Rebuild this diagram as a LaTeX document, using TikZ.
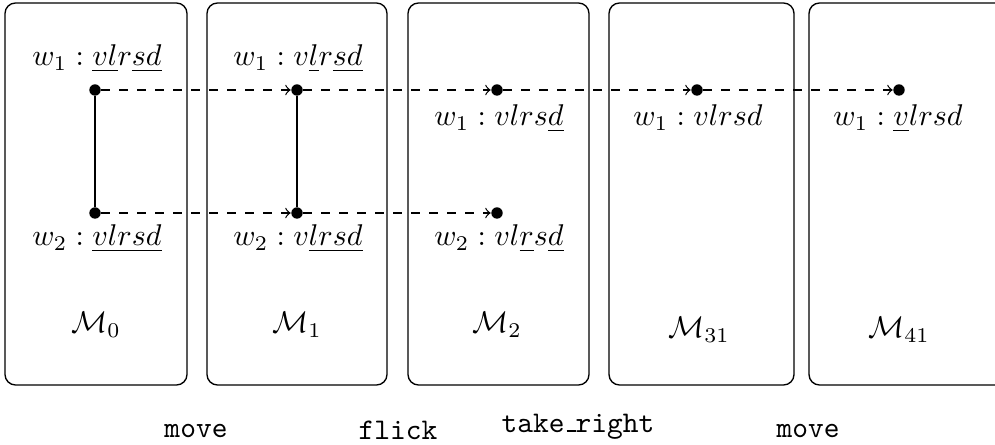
\documentclass[tikz,border=0pt]{standalone}
\newcommand{\lowbar}{\leavevmode\kern.06em\vbox{\hrule width.3em height 0.6pt}}
\begin{document}
\begin{tikzpicture}[x=0.3333pt,y=-0.3333pt,
  panel/.style={draw, rounded corners=3.5pt, line width=0.45pt},
  dot/.style={circle, fill, inner sep=0pt, minimum size=3.8pt},
  flow/.style={dashed, ->, line width=0.4pt},
  link/.style={line width=0.4pt},
  lbl/.style={anchor=base, inner sep=0pt},
  mlbl/.style={inner sep=0pt},
  act/.style={anchor=base, inner sep=0pt, font=\ttfamily}]
\useasboundingbox (0,0) rectangle (995,445);
% panels
\draw[panel] (5,3) rectangle (187,385);
\draw[panel] (207,3) rectangle (387,385);
\draw[panel] (408,3) rectangle (589,385);
\draw[panel] (609,3) rectangle (794,385);
\draw[panel] (809,3) rectangle (1020,385);
% labels w1
\node[lbl] (l10) at (97,66) {$w_1 : \underline{vl}r\underline{sd}$};
\node[lbl] (l11) at (298,66) {$w_1 : v\underline{l}r\underline{sd}$};
\node[lbl] (l12) at (499,126) {$w_1 : vlrs\underline{d}$};
\node[lbl] (l13) at (698,126) {$w_1 : vlrsd$};
\node[lbl] (l14) at (898,126) {$w_1 : \underline{v}lrsd$};
% labels w2
\node[lbl] (l20) at (97,246) {$w_2 : \underline{vlrsd}$};
\node[lbl] (l21) at (298,246) {$w_2 : v\underline{lrsd}$};
\node[lbl] (l22) at (499,246) {$w_2 : vl\underline{r}s\underline{d}$};
% model labels
\node[mlbl] (m0) at (96,325) {$\mathcal{M}_0$};
\node[mlbl] (m1) at (297,325) {$\mathcal{M}_1$};
\node[mlbl] (m2) at (497,325) {$\mathcal{M}_2$};
\node[mlbl] (m3) at (699,330) {$\mathcal{M}_{31}$};
\node[mlbl] (m4) at (899,330) {$\mathcal{M}_{41}$};
% actions
\node[act] (t1) at (196,437) {move};
\node[act] (t2) at (398,440) {flick};
\node[act] (t3) at (578,432) {take\lowbar right};
\node[act] (t4) at (808,437) {move};
% dots
\node[dot] (a0) at (95,90) {};
\node[dot] (a1) at (297,90) {};
\node[dot] (a2) at (497,90) {};
\node[dot] (a3) at (697,90) {};
\node[dot] (a4) at (899,90) {};
\node[dot] (b0) at (95,213) {};
\node[dot] (b1) at (297,213) {};
\node[dot] (b2) at (497,213) {};
% connectors
\draw[link] (a0) -- (b0);
\draw[link] (a1) -- (b1);
\draw[flow] (a0) -- (a1);
\draw[flow] (a1) -- (a2);
\draw[flow] (a2) -- (a3);
\draw[flow] (a3) -- (a4);
\draw[flow] (b0) -- (b1);
\draw[flow] (b1) -- (b2);
\end{tikzpicture}
\end{document}
